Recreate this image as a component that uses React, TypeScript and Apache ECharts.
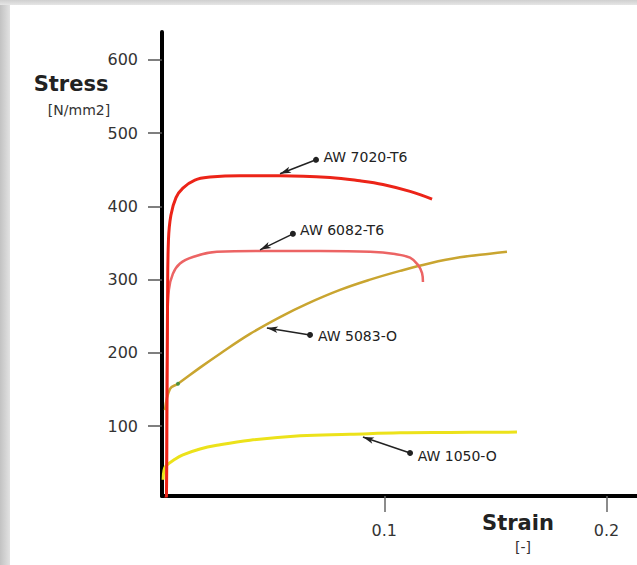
import React, { useEffect, useRef } from "react";
import * as echarts from "echarts";

const xTicks = [0.1, 0.2];
const yTicks = [100, 200, 300, 400, 500, 600];

const aw7020Strain = [0.0013, 0.002, 0.00225, 0.0025, 0.0029, 0.004, 0.0063, 0.0094, 0.0148, 0.0216, 0.0351, 0.0531, 0.0756, 0.089, 0.0994, 0.1116, 0.1215];
const aw7020Stress = [0, 5, 136, 272, 354, 388, 412, 425, 436, 440, 442, 442, 439.5, 435, 430, 420.5, 410];

const aw6082Strain = [0.002, 0.0025, 0.0031, 0.0049, 0.0081, 0.0139, 0.0247, 0.0441, 0.0711, 0.0936, 0.1048, 0.1116, 0.1152, 0.117, 0.1174];
const aw6082Stress = [5, 245, 286, 308, 322, 331, 338, 339, 339, 338, 335, 330, 320, 309, 297];

const aw5083Strain = [0.00135, 0.0036, 0.0072, 0.0171, 0.0261, 0.0396, 0.0531, 0.0652, 0.0801, 0.0936, 0.1071, 0.1206, 0.134, 0.1475, 0.1552];
const aw5083Stress = [122, 151, 158, 180, 199, 226, 249, 267, 286, 300, 312, 322.5, 330.5, 335.5, 338];

const aw1050Strain = [0.0005, 0.0009, 0.0018, 0.0058, 0.0094, 0.0171, 0.0247, 0.0396, 0.0621, 0.0846, 0.1071, 0.1296, 0.1597];
const aw1050Stress = [27, 40, 46, 55, 61, 69, 74, 81, 87, 89, 91, 91.5, 92];

const seriesNames = ["AW 7020-T6", "AW 6082-T6", "AW 5083-O", "AW 1050-O"];
// pointer: [tipStrain, tipStress, dotStrain, dotStress]
const pointers = [
  [0.0531, 444.6, 0.0693, 463.6],
  [0.0441, 340.7, 0.0589, 362.6],
  [0.0472, 234.2, 0.0666, 224.6],
  [0.0904, 85.3, 0.1116, 63.5],
];
const greenDot = [0.0072, 158];

const FONT = "DejaVu Sans, Verdana, sans-serif";

function zip(a: number[], b: number[]) {
  return a.map((v, i) => [v, b[i]]);
}

function pointerMark(i: number) {
  const p = pointers[i];
  return {
    silent: true,
    animation: false,
    lineStyle: { color: "#222", width: 1.5, type: "solid" },
    label: {
      show: true,
      position: "end",
      distance: 8,
      formatter: seriesNames[i],
      color: "#222",
      fontSize: 14,
      fontFamily: FONT,
    },
    emphasis: { disabled: true },
    data: [
      [
        { coord: [p[0], p[1]], symbol: "arrow", symbolSize: [5, 11] },
        { coord: [p[2], p[3]], symbol: "circle", symbolSize: 6 },
      ],
    ],
  };
}

export default function App() {
  const ref = useRef<HTMLDivElement>(null);
  useEffect(() => {
    if (!ref.current) return;
    const chart = echarts.init(ref.current, null, { renderer: "svg" });
    const lineBase = {
      type: "line",
      showSymbol: false,
      smooth: 0.4,
      clip: true,
      z: 3,
    };
    chart.setOption({
      animation: false,
      backgroundColor: "#ffffff",
      grid: { left: 162, right: 0, top: 32, bottom: 69, containLabel: false, outerBoundsMode: "none" },
      xAxis: {
        type: "value",
        min: 0,
        max: 0.2137,
        splitLine: { show: false },
        axisLine: { show: true, onZero: false, lineStyle: { color: "#000", width: 4 } },
        axisTick: { show: true, customValues: xTicks, length: 16, lineStyle: { color: "#666", width: 1.5 } },
        axisLabel: {
          customValues: xTicks,
          margin: 26,
          fontSize: 16,
          color: "#333",
          fontFamily: FONT,
          formatter: (v: number) => String(v),
        },
      },
      yAxis: {
        type: "value",
        min: 4.8,
        max: 638,
        splitLine: { show: false },
        axisLine: { show: true, onZero: false, lineStyle: { color: "#000", width: 4 } },
        axisTick: { show: true, customValues: yTicks, length: 14, lineStyle: { color: "#555", width: 1.5 } },
        axisLabel: {
          customValues: yTicks,
          margin: 24,
          fontSize: 16,
          color: "#333",
          fontFamily: FONT,
          formatter: (v: number) => String(Math.round(v)),
        },
      },
      graphic: [
        {
          type: "rect",
          z: -10,
          shape: { x: 0, y: 0, width: 10, height: 565 },
          style: {
            fill: new echarts.graphic.LinearGradient(0, 0, 1, 0, [
              { offset: 0, color: "#c2c2c2" },
              { offset: 1, color: "#e2e2e2" },
            ]),
          },
        },
        {
          type: "rect",
          z: -10,
          shape: { x: 0, y: 0, width: 637, height: 5 },
          style: {
            fill: new echarts.graphic.LinearGradient(0, 0, 0, 1, [
              { offset: 0, color: "#cfcfcf" },
              { offset: 1, color: "#e6e6e6" },
            ]),
          },
        },
        {
          type: "text",
          x: 71,
          y: 84,
          style: { text: "Stress", font: `bold 21px ${FONT}`, fill: "#222", align: "center", verticalAlign: "middle" },
        },
        {
          type: "text",
          x: 79,
          y: 110,
          style: { text: "[N/mm2]", font: `14px ${FONT}`, fill: "#333", align: "center", verticalAlign: "middle" },
        },
        {
          type: "text",
          x: 518,
          y: 523,
          style: { text: "Strain", font: `bold 21px ${FONT}`, fill: "#222", align: "center", verticalAlign: "middle" },
        },
        {
          type: "text",
          x: 523,
          y: 547,
          style: { text: "[-]", font: `14px ${FONT}`, fill: "#333", align: "center", verticalAlign: "middle" },
        },
      ],
      series: [
        {
          ...lineBase,
          name: seriesNames[3],
          data: zip(aw1050Strain, aw1050Stress),
          lineStyle: { color: "#ece21a", width: 3 },
          markLine: pointerMark(3),
        },
        {
          ...lineBase,
          name: seriesNames[2],
          data: zip(aw5083Strain, aw5083Stress),
          lineStyle: { color: "#c9a530", width: 2.5 },
          markLine: pointerMark(2),
        },
        {
          ...lineBase,
          name: seriesNames[1],
          data: zip(aw6082Strain, aw6082Stress),
          lineStyle: { color: "#ec6464", width: 2.5 },
          markLine: pointerMark(1),
        },
        {
          ...lineBase,
          name: seriesNames[0],
          data: zip(aw7020Strain, aw7020Stress),
          lineStyle: { color: "#ec2418", width: 3 },
          markLine: pointerMark(0),
        },
        {
          type: "scatter",
          data: [greenDot],
          symbolSize: 4,
          itemStyle: { color: "#2f8a3c" },
          z: 4,
          silent: true,
        },
      ],
    });
    return () => chart.dispose();
  }, []);
  return <div ref={ref} style={{ position: "fixed", left: 0, top: 0, width: 637, height: 565 }} />;
}
